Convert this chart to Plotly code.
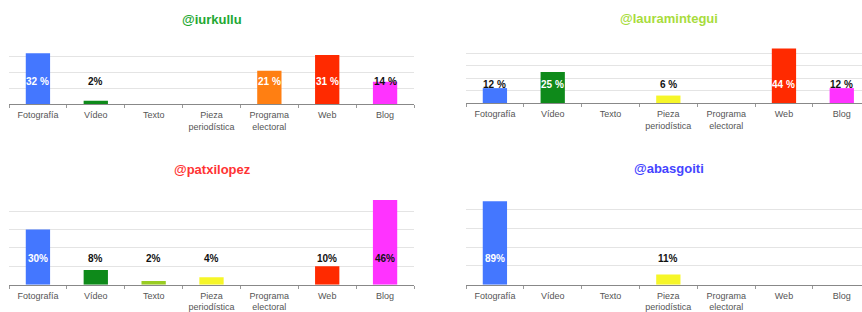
import plotly.graph_objects as go

categories = ["Fotografía", "Vídeo", "Texto", "Pieza<br>periodística",
              "Programa<br>electoral", "Web", "Blog"]
bar_colors = ["#4477ff", "#0e8a1a", "#99cc22", "#f6f628", "#ff7f12", "#ff2a00", "#ff33ff"]

titles = ["@iurkullu", "@lauramintegui", "@patxilopez", "@abasgoiti"]
title_colors = ["#22a832", "#a8dc3c", "#ff3333", "#4444ff"]

iurkullu = [32, 2, 0, 0, 21, 31, 14]
iurkullu_labels = ["32 %", "2%", "", "", "21 %", "31 %", "14 %"]
lauramintegui = [12, 25, 0, 6, 0, 44, 12]
lauramintegui_labels = ["12 %", "25 %", "", "6 %", "", "44 %", "12 %"]
patxilopez = [30, 8, 2, 4, 0, 10, 46]
patxilopez_labels = ["30%", "8%", "2%", "4%", "", "10%", "46%"]
abasgoiti = [89, 0, 0, 11, 0, 0, 0]
abasgoiti_labels = ["89%", "", "", "11%", "", "", ""]

series = [iurkullu, lauramintegui, patxilopez, abasgoiti]
labels = [iurkullu_labels, lauramintegui_labels, patxilopez_labels, abasgoiti_labels]
y_max = [40, 50, 50, 100]
y_dtick = [10, 10, 10, 20]
label_level = [14, 15, 14, 28]

W, H = 862, 312
# panel geometry in pixels: (x0, x1, baseline_y, top_y, xrange_end)
panels = [
    (9, 414, 104, 40.7, 6.5),
    (466, 862, 103, 41, 6.35),
    (9, 414, 284.7, 192.7, 6.5),
    (466, 862, 284.7, 191, 6.35),
]
title_pos = [(212, 19), (669, 18), (212, 169), (669, 168)]

fig = go.Figure()
annotations = []
for i, (vals, labs) in enumerate(zip(series, labels)):
    n = "" if i == 0 else str(i + 1)
    x0, x1, yb, yt, xend = panels[i]
    fig.add_trace(go.Bar(
        x=categories, y=vals, marker=dict(color=bar_colors, line=dict(width=0)),
        xaxis="x" + n, yaxis="y" + n, showlegend=False, hoverinfo="skip"))
    fig.layout["xaxis" + n] = dict(
        domain=[x0 / W, x1 / W], anchor="y" + n, type="category",
        range=[-0.5, xend], tickson="boundaries", ticks="outside", ticklen=3,
        tickcolor="#999", showline=True, linecolor="#888", linewidth=1,
        showgrid=False, ticklabelstandoff=2,
        tickfont=dict(family="Liberation Sans", size=9, color="#555"),
        fixedrange=True)
    fig.layout["yaxis" + n] = dict(
        domain=[1 - yb / H, 1 - yt / H], anchor="x" + n, range=[0, y_max[i]],
        dtick=y_dtick[i], showticklabels=False, showgrid=True, gridcolor="#e4e4e4",
        gridwidth=1, zeroline=False, showline=False, ticks="", fixedrange=True)
    for c, v, t, col in zip(categories, vals, labs, bar_colors):
        if not t:
            continue
        inside = v > label_level[i] + 3 and col != "#ff33ff"
        annotations.append(dict(
            x=c, y=label_level[i], xref="x" + n, yref="y" + n, text="<b>" + t + "</b>",
            showarrow=False, xanchor="center", yanchor="middle",
            font=dict(family="Liberation Sans", size=10,
                      color="#ffffff" if inside else "#111111")))
    tx, ty = title_pos[i]
    annotations.append(dict(
        x=tx / W, y=1 - ty / H, xref="paper", yref="paper", text="<b>" + titles[i] + "</b>",
        showarrow=False, xanchor="center", yanchor="middle",
        font=dict(family="Liberation Sans", size=13, color=title_colors[i])))

fig.update_layout(
    width=W, height=H, margin=dict(l=0, r=0, t=0, b=0),
    paper_bgcolor="white", plot_bgcolor="white", bargap=0.58,
    annotations=annotations)

fig.write_html("out.html", config={"displayModeBar": False},
               post_script="document.body.style.margin='0px';document.body.style.overflow='hidden';")
